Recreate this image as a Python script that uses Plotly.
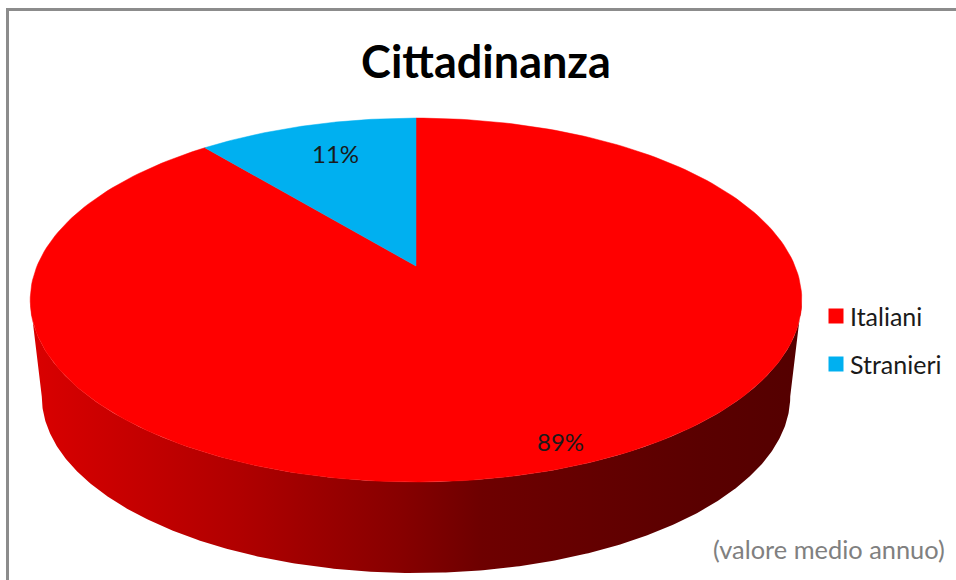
import numpy as np
import plotly.graph_objects as go

categories = ["Italiani", "Stranieri"]
values = [89, 11]
colors = ["#ff0000", "#00b0f0"]
pct_labels = ["89%", "11%"]

# where the side wall shade changes, left to right
shade_x = [41, 240, 300, 400, 480, 590, 700, 800]
shade_red = [218, 176, 160, 135, 110, 100, 90, 84]

WIDTH, HEIGHT = 956, 580
FONT = "Lato"

# tilted disc with a bit of perspective, in pixels of the page
CX, TOP_CY, RX, RY, PERSP = 416, 266, 379, 175.6, 0.187
BASE_CY, BASE_SCALE = 363.5, 0.97


def project(theta, cy=TOP_CY, scale=1.0):
    # theta runs clockwise from 12 o'clock
    den = 1 + PERSP * np.cos(theta)
    x = CX + scale * RX * np.sin(theta) / den
    y = cy - scale * RY * np.cos(theta) / den
    return x, y


fig = go.Figure()

# side wall, from one tangent point of the disc to the other
limit = np.arccos(-PERSP)
t = np.linspace(limit, 2 * np.pi - limit, 400)
x_top, y_top = project(t)
x_low, y_low = project(t[::-1], BASE_CY, BASE_SCALE)
side_x = np.r_[x_top, x_low]
side_y = np.r_[y_top, y_low]
left, right = side_x.min(), side_x.max()
stops = [
    [float(np.clip((x - left) / (right - left), 0, 1)), f"rgb({red},0,0)"]
    for x, red in zip(shade_x, shade_red)
]
stops[0][0] = 0.0
stops[-1][0] = 1.0
fig.add_trace(go.Scatter(
    x=side_x, y=side_y, mode="lines", fill="toself",
    fillgradient=dict(type="horizontal", colorscale=stops),
    line=dict(width=0), showlegend=False, hoverinfo="skip",
))

# top face, slices start at 12 o'clock
start = 0.0
for name, value, color in zip(categories, values, colors):
    sweep = 2 * np.pi * value / sum(values)
    t = np.linspace(start, start + sweep, 240)
    x_arc, y_arc = project(t)
    fig.add_trace(go.Scatter(
        x=np.r_[CX, x_arc, CX], y=np.r_[TOP_CY, y_arc, TOP_CY],
        mode="lines", fill="toself", fillcolor=color,
        line=dict(color=color, width=0.5),
        name=name, showlegend=False, hoverinfo="name",
    ))
    start += sweep

# legend block, plotly's own legend can't get the swatch this close to the text
fig.add_trace(go.Scatter(
    x=[836, 836], y=[316, 364], mode="markers",
    marker=dict(color=colors, size=15, symbol="square"),
    showlegend=False, hoverinfo="skip",
))
for name, y in zip(categories, [316, 364]):
    fig.add_annotation(x=850, y=y, text=name, showarrow=False, xanchor="left",
                       xshift=-2, font=dict(family=FONT, size=25, color="#1a1a1a"))

fig.add_annotation(x=560, y=441, text=pct_labels[0], showarrow=False,
                   font=dict(family=FONT, size=24, color="#1a1a1a"))
fig.add_annotation(x=335, y=153, text=pct_labels[1], showarrow=False,
                   font=dict(family=FONT, size=24, color="#1a1a1a"))
fig.add_annotation(x=945, y=549, text="(valore medio annuo)", showarrow=False,
                   xanchor="right", xshift=2,
                   font=dict(family=FONT, size=25.4, color="#808080"))

# chart frame, only left and top are inside the crop
fig.add_shape(type="line", x0=7.5, x1=7.5, y0=8, y1=HEIGHT,
              line=dict(color="#8c8c8c", width=3))
fig.add_shape(type="line", x0=6, x1=WIDTH, y0=9.5, y1=9.5,
              line=dict(color="#8c8c8c", width=3))

fig.update_xaxes(range=[0, WIDTH], visible=False, fixedrange=True)
fig.update_yaxes(range=[HEIGHT, 0], visible=False, fixedrange=True)
fig.update_layout(
    width=WIDTH, height=HEIGHT,
    margin=dict(l=0, r=0, t=0, b=0),
    paper_bgcolor="white", plot_bgcolor="white",
    title=dict(text="<b>Cittadinanza</b>", x=486 / WIDTH, y=1 - 62 / HEIGHT,
               xanchor="center", yanchor="middle",
               font=dict(family=FONT, size=45, color="black")),
)

fig.write_html("out.html", config={"displayModeBar": False},
               post_script="document.body.style.margin = '0';")
